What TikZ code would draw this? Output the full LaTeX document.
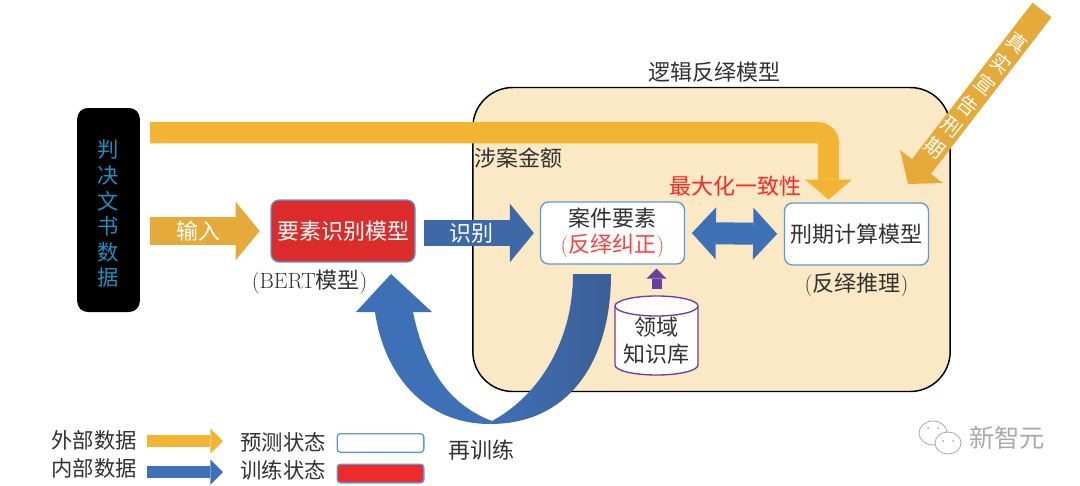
\documentclass[tikz,border=0pt]{standalone}
\usepackage{fontspec}
\usepackage{tikz}
\usetikzlibrary{arrows.meta,calc,positioning}
\newfontfamily\cjk{Noto Sans CJK SC}
\definecolor{lgcream}{RGB}{251,232,196}
\definecolor{lgyellow}{RGB}{243,179,51}
\definecolor{lgorange}{RGB}{229,170,58}
\definecolor{lgblue}{RGB}{62,112,183}
\definecolor{lgmid}{RGB}{61,105,168}
\definecolor{lgdeep}{RGB}{60,95,150}
\definecolor{lgred}{RGB}{220,43,43}
\definecolor{lgbright}{RGB}{238,42,42}
\definecolor{lgline}{RGB}{91,155,213}
\definecolor{lgpurple}{RGB}{107,63,160}
\definecolor{lgcyan}{RGB}{27,143,192}
\definecolor{lgtext}{RGB}{50,50,50}
\definecolor{lgmark}{RGB}{170,170,170}
\begin{document}
\begin{tikzpicture}[x=.75pt,y=-.75pt,font=\fontsize{16.5}{20}\selectfont,text=lgtext,
      state/.style={draw=lgline,line width=1pt,rounded corners=6pt,fill=white,minimum width=108pt,minimum height=46.5pt,inner sep=0pt,align=center},
      legbox/.style={draw=lgline,line width=1pt,rounded corners=2.5pt,minimum width=65pt,minimum height=14pt,inner sep=0pt},
      plain/.style={inner sep=0pt,align=center},
      legtext/.style={inner sep=0pt,font=\fontsize{16}{20}\selectfont},
      inflow/.style={line width=21pt,-{Triangle[length=18pt,width=44pt,line width=0pt]}},
      legflow/.style={line width=9.5pt,-{Triangle[length=9.5pt,width=19pt,line width=0pt]}}]
      \useasboundingbox (0,0) rectangle (1080,485);
      \node[draw=black,line width=1.1pt,rounded corners=30pt,fill=lgcream,minimum width=358pt,minimum height=228pt,inner sep=0pt] (logicbox) at (711.5,239.5) {};
      \node[plain,above=3.5pt of logicbox.north,xshift=2pt] (logictitle) {\cjk 逻辑反绎模型};
      \node[plain,anchor=north west] (amount) at (474,148) {\cjk 涉案金额};
      \node[fill=black,rounded corners=8pt,minimum width=47pt,minimum height=153pt,inner sep=0pt,align=center,text=lgcyan,font=\fontsize{16}{19.2}\selectfont] (judgedoc) at (108.5,210) {\rule{0pt}{19pt}\cjk 判\\\cjk 决\\\cjk 文\\\cjk 书\\\cjk 数\\\cjk 据};
      \node[state,fill=lgred,text=white,minimum width=108pt] (elemodel) at (343,231) {\cjk 要素识别模型};
      \node[state] (casebox) at (612.5,233) {\cjk 案件要素\\[-1pt]{\color{red!75}(\cjk 反绎纠正\normalfont)}};
      \node[state] (rangebox) at (856.5,234) {\cjk 刑期计算模型};
      \node[plain,below=5.5pt of elemodel,xshift=-25pt] (bertnote) {(BERT\cjk 模型\normalfont)};
      \node[plain,below=5pt of rangebox] (infernote) {(\cjk 反绎推理\normalfont)};
      \node[plain,text=red!85] (consist) at (735,186) {\cjk 最大化一致性};
      % knowledge base drum
      \draw[lgpurple,line width=1pt,fill=white] (615,306) arc (180:360:41.5 and 10) -- (698,365) arc (0:180:41.5 and 10) -- cycle;
      \draw[lgpurple,line width=1pt] (615,306) arc (180:0:41.5 and 10);
      \coordinate (kbtop) at (656.5,296);
      \node[plain] (kbtext) at (656,341) {\cjk 领域\\\cjk 知识库};
      % connectors
      \draw[inflow,lgorange,shorten <=7.5pt,shorten >=8pt] (judgedoc.east |- elemodel.west) -- (elemodel.west)
        node[pos=.45,text=white] (inputlabel) {\cjk 输入};
      \draw[inflow,lgmid,line width=19.5pt,shorten <=6.5pt,shorten >=4.5pt] (elemodel.east |- casebox.west) -- (casebox.west)
        node[pos=.45,text=white] (recoglabel) {\cjk 识别};
      \draw[lgblue,line width=16.5pt,{Triangle[length=18pt,width=39pt,line width=0pt]}-{Triangle[length=18pt,width=39pt,line width=0pt]},shorten <=5pt,shorten >=5pt] (casebox.east) -- (rangebox.west);
      \draw[lgpurple,line width=7.5pt,-{Triangle[length=7.5pt,width=15pt,line width=0pt]},shorten <=5pt,shorten >=3pt] (kbtop) -- (kbtop |- casebox.south);
      \draw[lgyellow,line width=16pt,rounded corners=8pt,-{Triangle[length=15pt,width=35pt,line width=0pt]},shorten <=7.5pt,shorten >=2pt] ([yshift=-18.75pt]judgedoc.north east) -| ([xshift=-21pt]rangebox.north);
      \coordinate (truestart) at (1042,10);
      \coordinate (trueend) at (908,184);
      \draw[lgorange,line width=18pt,-{Triangle[length=16.5pt,width=40.5pt,line width=0pt]}] (truestart) -- (trueend)
        node[pos=.49,rotate=-38,text=white,inner sep=0pt,align=center,font=\fontsize{15}{20}\selectfont] (truelabel) {\cjk 真\\\cjk 实\\\cjk 宣\\\cjk 告\\\cjk 刑\\\cjk 期};
      % retraining arrow
      \shade[left color=lgblue,middle color=lgdeep,right color=lgdeep] (490,424) .. controls (570,424) and (611,360) .. (611,274) -- (573,274) .. controls (573,340) and (540,395) .. (492,421) -- cycle;
      \fill[lgblue] (391,274) -- (432,312) -- (413,312) .. controls (425,370) and (450,405) .. (492,421) -- (490,424) .. controls (425,424) and (384,375) .. (375,312) -- (356,312) -- cycle;
      \node[plain] (retrain) at (481,450) {\cjk 再训练};
      % legend
      \node[legtext] (legext) at (94,440) {\cjk 外部数据};
      \node[legtext] (legint) at (94,468) {\cjk 内部数据};
      \node[legtext] (legpred) at (283,442) {\cjk 预测状态};
      \node[legtext] (legtrain) at (283,470) {\cjk 训练状态};
      \node[legbox,fill=white] (legwhite) at (380.5,443) {};
      \node[legbox,fill=lgbright] (legredbox) at (380.5,473.5) {};
      \coordinate (legextend) at (223,441);
      \coordinate (legintend) at (223,472);
      \draw[legflow,lgyellow] (147,441) -- (legextend);
      \draw[legflow,lgblue] (147,472) -- (legintend);
      % watermark
      \draw[lgmark,fill=white,line width=.6pt] (933,433) ellipse (14 and 12);
      \draw[lgmark,fill=white,line width=.6pt] (948,443) ellipse (13 and 11);
      \fill[lgmark] (928,428) circle (1) (938,428) circle (1) (943,441) circle (1) (953,441) circle (1);
      \node[plain,text=lgmark,font=\fontsize{19}{20}\selectfont] (markname) at (1007,438) {\cjk 新智元};
    \end{tikzpicture}
\end{document}
